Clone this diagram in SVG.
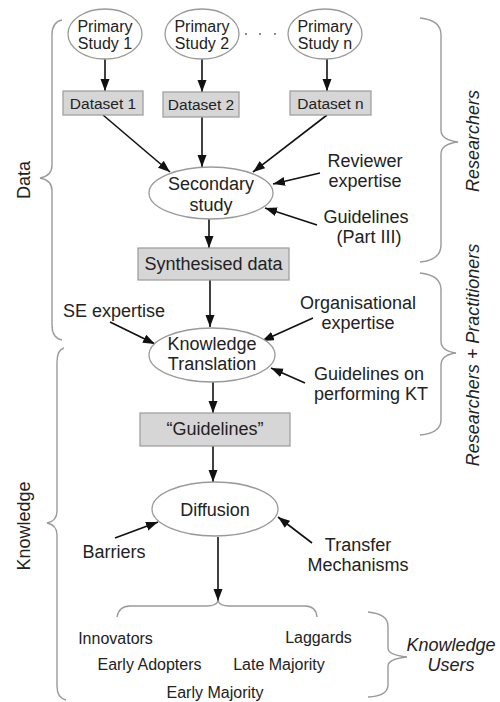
<svg xmlns="http://www.w3.org/2000/svg" width="500" height="702" viewBox="0 0 500 702">
<defs>
<style>
text{font-family:"Liberation Sans",Arial,sans-serif;fill:#222;text-anchor:middle}
.s16{font-size:16px}.s18{font-size:18px}.s15{font-size:15.5px}
.it{font-style:italic}
.ell{fill:#fff;stroke:#9a9a9a;stroke-width:1.3}
.box{fill:#d6d6d6;stroke:#a0a0a0;stroke-width:1.3}
.brace{fill:none;stroke:#9a9a9a;stroke-width:1.4}
.arr{stroke:#111;stroke-width:1.6;fill:none;marker-end:url(#ah)}
</style>
<marker id="ah" markerUnits="userSpaceOnUse" markerWidth="13" markerHeight="10" refX="12" refY="4.5" orient="auto">
<path d="M0,0 L12,4.5 L0,9 z" fill="#111"/>
</marker>
</defs>
<rect width="500" height="702" fill="#fff"/>

<g id="connectors">
<line class="arr" x1="105" y1="59" x2="105" y2="91"/>
<line class="arr" x1="202" y1="59" x2="202" y2="92"/>
<line class="arr" x1="327" y1="59" x2="327" y2="91"/>
<line class="arr" x1="103" y1="115" x2="170" y2="172"/>
<line class="arr" x1="202" y1="117" x2="202" y2="167"/>
<line class="arr" x1="327" y1="115" x2="253" y2="172"/>
<line class="arr" x1="320" y1="173" x2="273" y2="184"/>
<line class="arr" x1="317" y1="225" x2="265" y2="208"/>
<line class="arr" x1="209" y1="219" x2="209" y2="248"/>
<line class="arr" x1="210" y1="280" x2="210" y2="327"/>
<line class="arr" x1="110" y1="322" x2="155" y2="344"/>
<line class="arr" x1="313" y1="318" x2="262" y2="341"/>
<line class="arr" x1="305" y1="383" x2="271" y2="368"/>
<line class="arr" x1="213" y1="381" x2="213" y2="413"/>
<line class="arr" x1="213" y1="446" x2="213" y2="482"/>
<line class="arr" x1="115" y1="538" x2="158" y2="522"/>
<line class="arr" x1="312" y1="543" x2="278" y2="517"/>
<line class="arr" x1="218" y1="537" x2="218" y2="601"/>
</g>

<g id="primary1"><ellipse class="ell" cx="105" cy="34" rx="37" ry="25"/><text class="s16" x="105" y="32">Primary</text><text class="s16" x="105" y="49">Study 1</text></g>
<g id="primary2"><ellipse class="ell" cx="202" cy="34" rx="37" ry="25"/><text class="s16" x="202" y="32">Primary</text><text class="s16" x="202" y="49">Study 2</text></g>
<g id="dots"><circle cx="246" cy="34" r="0.9" fill="#555"/><circle cx="260" cy="34" r="0.9" fill="#555"/><circle cx="275" cy="34" r="0.9" fill="#555"/></g>
<g id="primaryn"><ellipse class="ell" cx="325" cy="34" rx="37" ry="25"/><text class="s16" x="325" y="32">Primary</text><text class="s16" x="325" y="49">Study n</text></g>

<g id="dataset1"><rect class="box" x="63" y="91" width="80" height="24"/><text class="s15" x="103" y="109">Dataset 1</text></g>
<g id="dataset2"><rect class="box" x="163" y="92" width="76" height="25"/><text class="s15" x="201" y="110">Dataset 2</text></g>
<g id="datasetn"><rect class="box" x="290" y="91" width="81" height="24"/><text class="s15" x="330.5" y="109">Dataset n</text></g>

<g id="secondary"><ellipse class="ell" cx="211" cy="193" rx="62" ry="26"/><text class="s18" x="211" y="190">Secondary</text><text class="s18" x="211" y="211">study</text></g>
<g id="reviewer"><text class="s18" x="365" y="167">Reviewer</text><text class="s18" x="365" y="187">expertise</text></g>
<g id="guidelines3"><text class="s18" x="366" y="223">Guidelines</text><text class="s18" x="369" y="243">(Part III)</text></g>

<g id="synth"><rect class="box" x="138" y="248" width="151" height="32"/><text class="s18" x="213.5" y="270">Synthesised data</text></g>

<g id="se"><text class="s18" x="114" y="317">SE expertise</text></g>
<g id="org"><text class="s18" x="358" y="309">Organisational</text><text class="s18" x="358" y="329">expertise</text></g>
<g id="kt"><ellipse class="ell" cx="212" cy="355" rx="63" ry="27"/><text class="s18" x="212" y="350">Knowledge</text><text class="s18" x="212" y="370">Translation</text></g>
<g id="gkt"><text class="s18" x="369" y="380">Guidelines on</text><text class="s18" x="371" y="400">performing KT</text></g>

<g id="guidelinesq"><rect class="box" x="140" y="413" width="150" height="33"/><text class="s18" x="215" y="435">“Guidelines”</text></g>

<g id="diffusion"><ellipse class="ell" cx="215" cy="509" rx="63" ry="27"/><text class="s18" x="215" y="516">Diffusion</text></g>
<g id="barriers"><text class="s18" x="114" y="558">Barriers</text></g>
<g id="transfer"><text class="s18" x="358" y="551">Transfer</text><text class="s18" x="358" y="571">Mechanisms</text></g>

<g id="users">
<text class="s16" x="115.5" y="644">Innovators</text>
<text class="s16" x="318.5" y="643">Laggards</text>
<text class="s16" x="149.5" y="670">Early Adopters</text>
<text class="s16" x="279" y="670">Late Majority</text>
<text class="s16" x="215" y="698">Early Majority</text>
</g>

<g id="braces">
<path class="brace" d="M62,20 Q52,22 52,35 L52,165 Q52,176 40,178 Q52,180 52,191 L52,325 Q52,338 62,340"/>
<path class="brace" d="M64,348 Q57,350 57,362 L57,511 Q57,521 47,523 Q57,525 57,535 L57,686 Q57,698 66,700"/>
<path class="brace" d="M420,18 Q441,20 441,35 L441,130 Q441,140 458,142 Q441,144 441,154 L441,245 Q441,260 420,262"/>
<path class="brace" d="M420,273 Q441,275 441,290 L441,341 Q441,351 456,353 Q441,355 441,365 L441,420 Q441,433 420,435"/>
<path class="brace" d="M368,612 Q388,614 388,626 L388,648 Q388,655 407,657 Q388,659 388,666 L388,685 Q388,696 368,697"/>
<path class="brace" d="M117,617 Q119,606 130,606 L207,606 Q216,606 218,601 Q220,606 229,606 L305,606 Q316,606 317,617"/>
</g>

<g id="labels">
<text class="s18" transform="translate(30,180) rotate(-90)">Data</text>
<text class="s18" transform="translate(30,526) rotate(-90)">Knowledge</text>
<text class="s18 it" transform="translate(479,141) rotate(-90)">Researchers</text>
<text class="s18 it" transform="translate(479,355) rotate(-90)">Researchers + Practitioners</text>
<text class="s18 it" x="451" y="651">Knowledge</text>
<text class="s18 it" x="451" y="671">Users</text>
</g>
</svg>
